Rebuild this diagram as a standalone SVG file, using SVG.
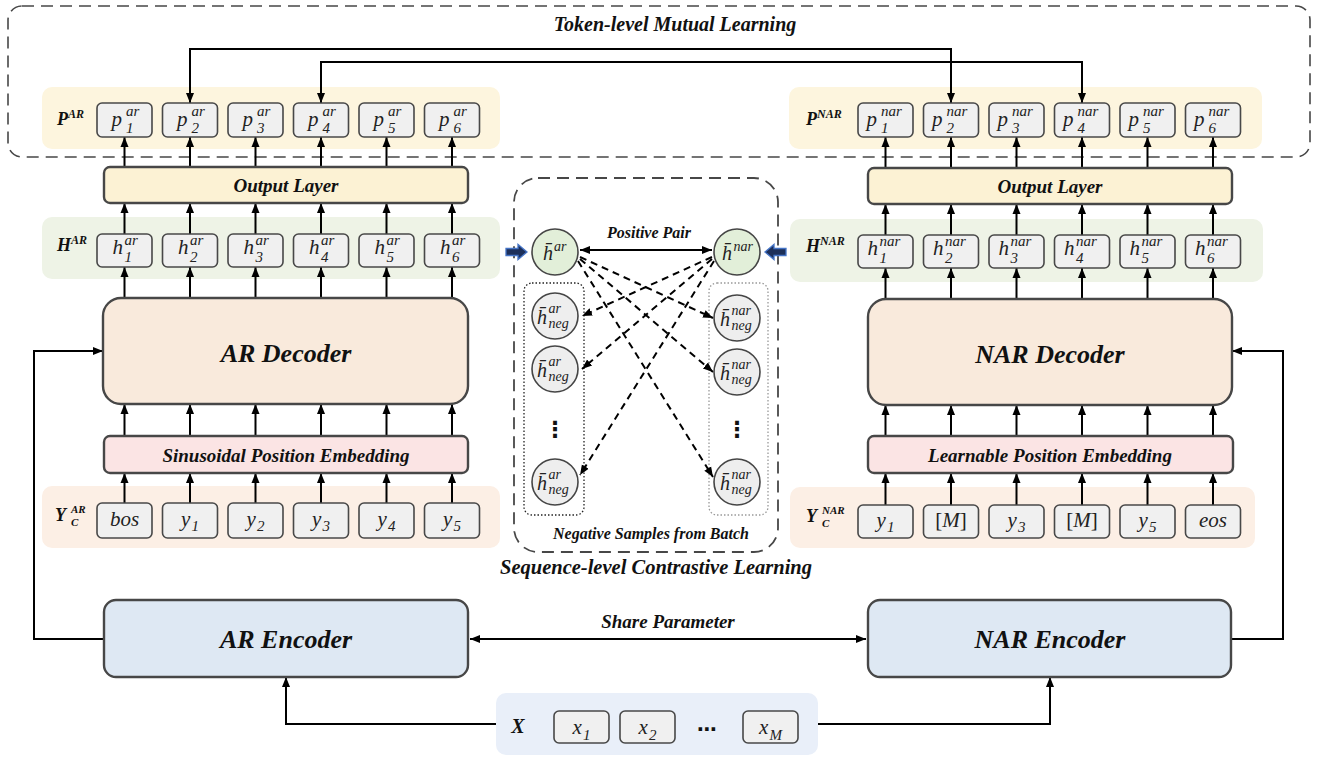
<svg xmlns="http://www.w3.org/2000/svg" width="1317" height="757" viewBox="0 0 1317 757">
<style>
.tb{fill:#f0f0f0;stroke:#484848;stroke-width:1.6}
.big{stroke:#474747;stroke-width:2.4}
.a{stroke:#000;stroke-width:2;fill:none;marker-end:url(#ah)}
.d{stroke:#000;stroke-width:2;fill:none;stroke-dasharray:7 5;marker-end:url(#ah)}
.lb{font-family:'Liberation Serif','Times New Roman','DejaVu Serif',serif;font-style:italic;font-weight:bold;fill:#111}
.m{font-family:'Liberation Serif','Times New Roman','DejaVu Serif',serif;font-style:italic;font-size:21px;fill:#222}
.s{font-size:15px}
.cm{font-family:'Liberation Serif','Times New Roman','DejaVu Serif',serif;font-style:italic;font-size:20px;fill:#222}
.cs{font-size:14px}
.circ{stroke:#454545;stroke-width:1.6}
</style>
<defs>
<marker id="ah" viewBox="0 0 10 10" refX="10" refY="5" markerWidth="10" markerHeight="10" markerUnits="userSpaceOnUse" orient="auto-start-reverse"><path d="M0,1 L10,5 L0,9 z" fill="#000"/></marker>
</defs>

<g id="bg">
<rect x="42" y="87" width="458" height="62" rx="10" fill="#fdf5de"/>
<rect x="789" y="87" width="473" height="62" rx="10" fill="#fdf5de"/>
<rect x="42" y="217" width="458" height="62" rx="10" fill="#eef3e6"/>
<rect x="790" y="219" width="473" height="63" rx="10" fill="#eef3e6"/>
<rect x="42" y="486" width="458" height="62" rx="10" fill="#fcefe5"/>
<rect x="790" y="487" width="465" height="61" rx="10" fill="#fcefe5"/>
<rect x="496" y="693" width="322" height="62" rx="10" fill="#e9eff9"/>
</g>

<g id="token-level-box">
<rect x="8" y="6" width="1302" height="151" rx="14" fill="none" stroke="#474747" stroke-width="1.6" stroke-dasharray="12 7"/>
<text class="lb" x="675" y="31" font-size="20" text-anchor="middle">Token-level Mutual Learning</text>
</g>
<g id="sequence-level-box">
<rect x="514" y="178" width="264" height="374" rx="24" fill="none" stroke="#474747" stroke-width="1.8" stroke-dasharray="12 7"/>
<rect x="524" y="283" width="60" height="232" rx="8" fill="none" stroke="#222" stroke-width="1.3" stroke-dasharray="1.5 2"/>
<rect x="709" y="283" width="59" height="232" rx="8" fill="none" stroke="#999" stroke-width="1.3" stroke-dasharray="1.5 2"/>
<text class="lb" x="651" y="539" font-size="16" text-anchor="middle">Negative Samples from Batch</text>
<text class="lb" x="656" y="574" font-size="20.5" text-anchor="middle">Sequence-level Contrastive Learning</text>
</g>

<g id="connectors">
<polyline class="a" points="190,103 190,49 951,49 951,103" marker-start="url(#ah)"/>
<polyline class="a" points="321,103 321,62 1082,62 1082,103" marker-start="url(#ah)"/>
<g>
<line class="a" x1="124.5" y1="167" x2="124.5" y2="137"/><line class="a" x1="190" y1="167" x2="190" y2="137"/><line class="a" x1="255.5" y1="167" x2="255.5" y2="137"/><line class="a" x1="321" y1="167" x2="321" y2="137"/><line class="a" x1="386.5" y1="167" x2="386.5" y2="137"/><line class="a" x1="452" y1="167" x2="452" y2="137"/>
<line class="a" x1="124.5" y1="234" x2="124.5" y2="203"/><line class="a" x1="190" y1="234" x2="190" y2="203"/><line class="a" x1="255.5" y1="234" x2="255.5" y2="203"/><line class="a" x1="321" y1="234" x2="321" y2="203"/><line class="a" x1="386.5" y1="234" x2="386.5" y2="203"/><line class="a" x1="452" y1="234" x2="452" y2="203"/>
<line class="a" x1="124.5" y1="298" x2="124.5" y2="267"/><line class="a" x1="190" y1="298" x2="190" y2="267"/><line class="a" x1="255.5" y1="298" x2="255.5" y2="267"/><line class="a" x1="321" y1="298" x2="321" y2="267"/><line class="a" x1="386.5" y1="298" x2="386.5" y2="267"/><line class="a" x1="452" y1="298" x2="452" y2="267"/>
<line class="a" x1="124.5" y1="436" x2="124.5" y2="404"/><line class="a" x1="190" y1="436" x2="190" y2="404"/><line class="a" x1="255.5" y1="436" x2="255.5" y2="404"/><line class="a" x1="321" y1="436" x2="321" y2="404"/><line class="a" x1="386.5" y1="436" x2="386.5" y2="404"/><line class="a" x1="452" y1="436" x2="452" y2="404"/>
<line class="a" x1="124.5" y1="503" x2="124.5" y2="473"/><line class="a" x1="190" y1="503" x2="190" y2="473"/><line class="a" x1="255.5" y1="503" x2="255.5" y2="473"/><line class="a" x1="321" y1="503" x2="321" y2="473"/><line class="a" x1="386.5" y1="503" x2="386.5" y2="473"/><line class="a" x1="452" y1="503" x2="452" y2="473"/>
</g>
<g>
<line class="a" x1="885.5" y1="168" x2="885.5" y2="137"/><line class="a" x1="951" y1="168" x2="951" y2="137"/><line class="a" x1="1016.5" y1="168" x2="1016.5" y2="137"/><line class="a" x1="1082" y1="168" x2="1082" y2="137"/><line class="a" x1="1147.5" y1="168" x2="1147.5" y2="137"/><line class="a" x1="1213" y1="168" x2="1213" y2="137"/>
<line class="a" x1="885.5" y1="235" x2="885.5" y2="204"/><line class="a" x1="951" y1="235" x2="951" y2="204"/><line class="a" x1="1016.5" y1="235" x2="1016.5" y2="204"/><line class="a" x1="1082" y1="235" x2="1082" y2="204"/><line class="a" x1="1147.5" y1="235" x2="1147.5" y2="204"/><line class="a" x1="1213" y1="235" x2="1213" y2="204"/>
<line class="a" x1="885.5" y1="299" x2="885.5" y2="268"/><line class="a" x1="951" y1="299" x2="951" y2="268"/><line class="a" x1="1016.5" y1="299" x2="1016.5" y2="268"/><line class="a" x1="1082" y1="299" x2="1082" y2="268"/><line class="a" x1="1147.5" y1="299" x2="1147.5" y2="268"/><line class="a" x1="1213" y1="299" x2="1213" y2="268"/>
<line class="a" x1="885.5" y1="436" x2="885.5" y2="405"/><line class="a" x1="951" y1="436" x2="951" y2="405"/><line class="a" x1="1016.5" y1="436" x2="1016.5" y2="405"/><line class="a" x1="1082" y1="436" x2="1082" y2="405"/><line class="a" x1="1147.5" y1="436" x2="1147.5" y2="405"/><line class="a" x1="1213" y1="436" x2="1213" y2="405"/>
<line class="a" x1="885.5" y1="505" x2="885.5" y2="473"/><line class="a" x1="951" y1="505" x2="951" y2="473"/><line class="a" x1="1016.5" y1="505" x2="1016.5" y2="473"/><line class="a" x1="1082" y1="505" x2="1082" y2="473"/><line class="a" x1="1147.5" y1="505" x2="1147.5" y2="473"/><line class="a" x1="1213" y1="505" x2="1213" y2="473"/>
</g>
<polyline class="a" points="104,639 34,639 34,351 103,351"/>
<polyline class="a" points="1231,639 1283,639 1283,351 1232,351"/>
<line class="a" x1="470" y1="639" x2="866" y2="639" marker-start="url(#ah)"/>
<text class="lb" x="668" y="628" font-size="19" text-anchor="middle">Share Parameter</text>
<polyline class="a" points="496,724 286,724 286,677"/>
<polyline class="a" points="818,724 1050,724 1050,677"/>
<line class="a" x1="580" y1="250" x2="712" y2="250" marker-start="url(#ah)"/>
<text class="lb" x="649" y="238" font-size="16" text-anchor="middle">Positive Pair</text>
<line class="d" x1="580" y1="257" x2="713" y2="318"/>
<line class="d" x1="580" y1="259" x2="713" y2="372"/>
<line class="d" x1="578" y1="261" x2="713" y2="477"/>
<line class="d" x1="712" y1="257" x2="582" y2="316"/>
<line class="d" x1="712" y1="259" x2="582" y2="369"/>
<line class="d" x1="714" y1="261" x2="580" y2="475"/>
<polygon points="506,248.5 518,248.5 518,244.5 527,252 518,259.5 518,255.5 506,255.5" fill="#1c2f5a" stroke="#4574c6" stroke-width="1.3"/>
<polygon points="786,248.5 774,248.5 774,244.5 765,252 774,259.5 774,255.5 786,255.5" fill="#1c2f5a" stroke="#4574c6" stroke-width="1.3"/>
</g>

<g id="P-AR">
<text class="lb" x="57" y="125" font-size="18">P<tspan font-size="12" dy="-7">AR</tspan></text>
<rect class="tb" x="97" y="103" width="55" height="34" rx="5"/><rect class="tb" x="162.5" y="103" width="55" height="34" rx="5"/><rect class="tb" x="228" y="103" width="55" height="34" rx="5"/><rect class="tb" x="293.5" y="103" width="55" height="34" rx="5"/><rect class="tb" x="359" y="103" width="55" height="34" rx="5"/><rect class="tb" x="424.5" y="103" width="55" height="34" rx="5"/>
<text class="m" x="111.5" y="126">p<tspan class="s" x="126" y="116">ar</tspan><tspan class="s" x="126" y="133">1</tspan></text>
<text class="m" x="177" y="126">p<tspan class="s" x="191.5" y="116">ar</tspan><tspan class="s" x="191.5" y="133">2</tspan></text>
<text class="m" x="242.5" y="126">p<tspan class="s" x="257" y="116">ar</tspan><tspan class="s" x="257" y="133">3</tspan></text>
<text class="m" x="308" y="126">p<tspan class="s" x="322.5" y="116">ar</tspan><tspan class="s" x="322.5" y="133">4</tspan></text>
<text class="m" x="373.5" y="126">p<tspan class="s" x="388" y="116">ar</tspan><tspan class="s" x="388" y="133">5</tspan></text>
<text class="m" x="439" y="126">p<tspan class="s" x="453.5" y="116">ar</tspan><tspan class="s" x="453.5" y="133">6</tspan></text>
</g>
<g id="output-layer-AR">
<rect class="big" x="104" y="167" width="364" height="36" rx="6" fill="#fcf2d4"/>
<text class="lb" x="286" y="192" font-size="19" text-anchor="middle">Output Layer</text>
</g>
<g id="H-AR">
<text class="lb" x="57" y="251" font-size="18">H<tspan font-size="12" dy="-7">AR</tspan></text>
<rect class="tb" x="97" y="234" width="55" height="33" rx="5"/><rect class="tb" x="162.5" y="234" width="55" height="33" rx="5"/><rect class="tb" x="228" y="234" width="55" height="33" rx="5"/><rect class="tb" x="293.5" y="234" width="55" height="33" rx="5"/><rect class="tb" x="359" y="234" width="55" height="33" rx="5"/><rect class="tb" x="424.5" y="234" width="55" height="33" rx="5"/>
<text class="m" x="112.5" y="254">h<tspan class="s" x="124.5" y="245">ar</tspan><tspan class="s" x="124.5" y="262">1</tspan></text>
<text class="m" x="178" y="254">h<tspan class="s" x="190" y="245">ar</tspan><tspan class="s" x="190" y="262">2</tspan></text>
<text class="m" x="243.5" y="254">h<tspan class="s" x="255.5" y="245">ar</tspan><tspan class="s" x="255.5" y="262">3</tspan></text>
<text class="m" x="309" y="254">h<tspan class="s" x="321" y="245">ar</tspan><tspan class="s" x="321" y="262">4</tspan></text>
<text class="m" x="374.5" y="254">h<tspan class="s" x="386.5" y="245">ar</tspan><tspan class="s" x="386.5" y="262">5</tspan></text>
<text class="m" x="440" y="254">h<tspan class="s" x="452" y="245">ar</tspan><tspan class="s" x="452" y="262">6</tspan></text>
</g>
<g id="AR-decoder">
<rect class="big" x="103" y="298" width="365" height="106" rx="18" fill="#f9eadc"/>
<text class="lb" x="286" y="362" font-size="26" text-anchor="middle">AR Decoder</text>
</g>
<g id="sinusoidal-PE">
<rect class="big" x="104" y="436" width="364" height="37" rx="6" fill="#fbe4e4"/>
<text class="lb" x="286" y="462" font-size="19" text-anchor="middle">Sinusoidal Position Embedding</text>
</g>
<g id="Y-AR">
<text class="lb" x="55" y="521" font-size="18">Y<tspan font-size="11" x="71" y="513">AR</tspan><tspan font-size="11" x="71" y="526">C</tspan></text>
<rect class="tb" x="97" y="503" width="55" height="35" rx="5"/><rect class="tb" x="162.5" y="503" width="55" height="35" rx="5"/><rect class="tb" x="228" y="503" width="55" height="35" rx="5"/><rect class="tb" x="293.5" y="503" width="55" height="35" rx="5"/><rect class="tb" x="359" y="503" width="55" height="35" rx="5"/><rect class="tb" x="424.5" y="503" width="55" height="35" rx="5"/>
<text class="m" x="124.5" y="526" text-anchor="middle">bos</text>
<text class="m" x="181" y="526">y<tspan class="s" x="191.5" y="531">1</tspan></text>
<text class="m" x="246.5" y="526">y<tspan class="s" x="257" y="531">2</tspan></text>
<text class="m" x="312" y="526">y<tspan class="s" x="322.5" y="531">3</tspan></text>
<text class="m" x="377.5" y="526">y<tspan class="s" x="388" y="531">4</tspan></text>
<text class="m" x="443" y="526">y<tspan class="s" x="453.5" y="531">5</tspan></text>
</g>
<g id="AR-encoder">
<rect class="big" x="104" y="600" width="364" height="77" rx="12" fill="#dee8f3"/>
<text class="lb" x="286" y="648" font-size="26" text-anchor="middle">AR Encoder</text>
</g>

<g id="P-NAR">
<text class="lb" x="806" y="125" font-size="18">P<tspan font-size="12" dy="-7">NAR</tspan></text>
<rect class="tb" x="858" y="103" width="55" height="34" rx="5"/><rect class="tb" x="923.5" y="103" width="55" height="34" rx="5"/><rect class="tb" x="989" y="103" width="55" height="34" rx="5"/><rect class="tb" x="1054.5" y="103" width="55" height="34" rx="5"/><rect class="tb" x="1120" y="103" width="55" height="34" rx="5"/><rect class="tb" x="1185.5" y="103" width="55" height="34" rx="5"/>
<text class="m" x="866.5" y="126">p<tspan class="s" x="881" y="116">nar</tspan><tspan class="s" x="881" y="133">1</tspan></text>
<text class="m" x="932" y="126">p<tspan class="s" x="946.5" y="116">nar</tspan><tspan class="s" x="946.5" y="133">2</tspan></text>
<text class="m" x="997.5" y="126">p<tspan class="s" x="1012" y="116">nar</tspan><tspan class="s" x="1012" y="133">3</tspan></text>
<text class="m" x="1063" y="126">p<tspan class="s" x="1077.5" y="116">nar</tspan><tspan class="s" x="1077.5" y="133">4</tspan></text>
<text class="m" x="1128.5" y="126">p<tspan class="s" x="1143" y="116">nar</tspan><tspan class="s" x="1143" y="133">5</tspan></text>
<text class="m" x="1194" y="126">p<tspan class="s" x="1208.5" y="116">nar</tspan><tspan class="s" x="1208.5" y="133">6</tspan></text>
</g>
<g id="output-layer-NAR">
<rect class="big" x="868" y="168" width="364" height="36" rx="6" fill="#fcf2d4"/>
<text class="lb" x="1050" y="193" font-size="19" text-anchor="middle">Output Layer</text>
</g>
<g id="H-NAR">
<text class="lb" x="806" y="252" font-size="18">H<tspan font-size="12" dy="-7">NAR</tspan></text>
<rect class="tb" x="858" y="235" width="55" height="33" rx="5"/><rect class="tb" x="923.5" y="235" width="55" height="33" rx="5"/><rect class="tb" x="989" y="235" width="55" height="33" rx="5"/><rect class="tb" x="1054.5" y="235" width="55" height="33" rx="5"/><rect class="tb" x="1120" y="235" width="55" height="33" rx="5"/><rect class="tb" x="1185.5" y="235" width="55" height="33" rx="5"/>
<text class="m" x="867.5" y="255">h<tspan class="s" x="879.5" y="246">nar</tspan><tspan class="s" x="879.5" y="263">1</tspan></text>
<text class="m" x="933" y="255">h<tspan class="s" x="945" y="246">nar</tspan><tspan class="s" x="945" y="263">2</tspan></text>
<text class="m" x="998.5" y="255">h<tspan class="s" x="1010.5" y="246">nar</tspan><tspan class="s" x="1010.5" y="263">3</tspan></text>
<text class="m" x="1064" y="255">h<tspan class="s" x="1076" y="246">nar</tspan><tspan class="s" x="1076" y="263">4</tspan></text>
<text class="m" x="1129.5" y="255">h<tspan class="s" x="1141.5" y="246">nar</tspan><tspan class="s" x="1141.5" y="263">5</tspan></text>
<text class="m" x="1195" y="255">h<tspan class="s" x="1207" y="246">nar</tspan><tspan class="s" x="1207" y="263">6</tspan></text>
</g>
<g id="NAR-decoder">
<rect class="big" x="868" y="299" width="364" height="106" rx="18" fill="#f9eadc"/>
<text class="lb" x="1050" y="363" font-size="26" text-anchor="middle">NAR Decoder</text>
</g>
<g id="learnable-PE">
<rect class="big" x="868" y="436" width="365" height="37" rx="6" fill="#fbe4e4"/>
<text class="lb" x="1050" y="462" font-size="19" text-anchor="middle">Learnable Position Embedding</text>
</g>
<g id="Y-NAR">
<text class="lb" x="806" y="522" font-size="18">Y<tspan font-size="11" x="822" y="514">NAR</tspan><tspan font-size="11" x="822" y="527">C</tspan></text>
<rect class="tb" x="858" y="505" width="55" height="33" rx="5"/><rect class="tb" x="923.5" y="505" width="55" height="33" rx="5"/><rect class="tb" x="989" y="505" width="55" height="33" rx="5"/><rect class="tb" x="1054.5" y="505" width="55" height="33" rx="5"/><rect class="tb" x="1120" y="505" width="55" height="33" rx="5"/><rect class="tb" x="1185.5" y="505" width="55" height="33" rx="5"/>
<text class="m" x="876.5" y="527">y<tspan class="s" x="887" y="532">1</tspan></text>
<text class="m" x="951" y="527" text-anchor="middle"><tspan font-style="normal">[</tspan>M<tspan font-style="normal">]</tspan></text>
<text class="m" x="1007.5" y="527">y<tspan class="s" x="1018" y="532">3</tspan></text>
<text class="m" x="1082" y="527" text-anchor="middle"><tspan font-style="normal">[</tspan>M<tspan font-style="normal">]</tspan></text>
<text class="m" x="1138.5" y="527">y<tspan class="s" x="1149" y="532">5</tspan></text>
<text class="m" x="1213" y="527" text-anchor="middle">eos</text>
</g>
<g id="NAR-encoder">
<rect class="big" x="868" y="600" width="363" height="77" rx="12" fill="#dee8f3"/>
<text class="lb" x="1050" y="648" font-size="26" text-anchor="middle">NAR Encoder</text>
</g>

<g id="X-input">
<text class="lb" x="518" y="733" font-size="20" text-anchor="middle">X</text>
<rect class="tb" x="554" y="711" width="55" height="32" rx="5"/>
<rect class="tb" x="620" y="711" width="55" height="32" rx="5"/>
<rect class="tb" x="743" y="711" width="55" height="32" rx="5"/>
<text class="m" x="572.5" y="734">x<tspan class="s" x="583" y="740">1</tspan></text>
<text class="m" x="638.5" y="734">x<tspan class="s" x="649" y="740">2</tspan></text>
<text class="m" x="759" y="734">x<tspan class="s" x="769.5" y="740">M</tspan></text>
<text x="707" y="736" font-family="DejaVu Sans,sans-serif" font-weight="bold" font-size="20" text-anchor="middle" fill="#111">⋯</text>
</g>

<g id="h-bar-ar">
<circle class="circ" cx="555" cy="252" r="23" fill="#e2efd9"/>
<text class="cm" x="543" y="260">h&#x304;<tspan class="cs" x="554" y="251">ar</tspan></text>
</g>
<g id="h-bar-nar">
<circle class="circ" cx="737" cy="252" r="23" fill="#e2efd9"/>
<text class="cm" x="722" y="260">h&#x304;<tspan class="cs" x="733.5" y="251">nar</tspan></text>
</g>
<g id="neg-ar">
<circle class="circ" cx="555" cy="316" r="23" fill="#eeeeee"/>
<circle class="circ" cx="555" cy="369" r="23" fill="#eeeeee"/>
<circle class="circ" cx="555" cy="482" r="23" fill="#eeeeee"/>
<text class="cm" x="537" y="324">h&#x304;<tspan class="cs" x="548.5" y="313">ar</tspan><tspan class="cs" x="548.5" y="328">neg</tspan></text>
<text class="cm" x="537" y="377">h&#x304;<tspan class="cs" x="548.5" y="366">ar</tspan><tspan class="cs" x="548.5" y="381">neg</tspan></text>
<text class="cm" x="537" y="490">h&#x304;<tspan class="cs" x="548.5" y="479">ar</tspan><tspan class="cs" x="548.5" y="494">neg</tspan></text>
<text x="555" y="437" font-family="DejaVu Sans,sans-serif" font-weight="bold" font-size="22" text-anchor="middle" fill="#111">⋮</text>
</g>
<g id="neg-nar">
<circle class="circ" cx="737" cy="318" r="23" fill="#eeeeee"/>
<circle class="circ" cx="737" cy="372" r="23" fill="#eeeeee"/>
<circle class="circ" cx="737" cy="482" r="23" fill="#eeeeee"/>
<text class="cm" x="720" y="326">h&#x304;<tspan class="cs" x="731.5" y="315">nar</tspan><tspan class="cs" x="731.5" y="330">neg</tspan></text>
<text class="cm" x="720" y="380">h&#x304;<tspan class="cs" x="731.5" y="369">nar</tspan><tspan class="cs" x="731.5" y="384">neg</tspan></text>
<text class="cm" x="720" y="490">h&#x304;<tspan class="cs" x="731.5" y="479">nar</tspan><tspan class="cs" x="731.5" y="494">neg</tspan></text>
<text x="737" y="437" font-family="DejaVu Sans,sans-serif" font-weight="bold" font-size="22" text-anchor="middle" fill="#111">⋮</text>
</g>
</svg>
